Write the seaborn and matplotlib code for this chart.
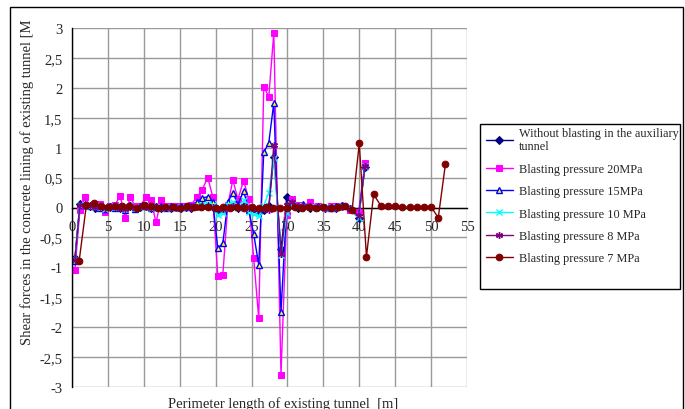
import matplotlib
matplotlib.use("Agg")
import matplotlib.pyplot as plt
from matplotlib.patches import Rectangle
from matplotlib.ticker import FixedLocator, FixedFormatter
import seaborn as sns
import pandas as pd

# ---------------- data ----------------
x_common = [0.4, 1.1, 1.8, 2.5, 3.2, 3.9, 4.6, 5.3, 6.0, 6.7, 7.4, 8.1, 8.8, 9.5,
            10.3, 11.0, 11.7, 12.4, 13.1, 13.8, 14.5, 15.2, 15.9, 16.6, 17.4, 18.1,
            18.9, 19.6, 20.3, 21.0, 21.7, 22.4, 23.1, 23.9, 24.6, 25.3, 26.0, 26.7,
            27.4, 28.1, 29.1, 29.9, 30.7, 31.5, 32.2, 33.1, 34.2, 35.2, 36.1, 36.8,
            37.6, 38.7, 39.9, 40.8]

without_blasting = [-0.85, 0.06, 0.04, 0.02, 0.0, 0.02, -0.02, 0.01, 0.02, 0.0, -0.03, 0.02,
                    0.0, 0.01, 0.02, 0.0, 0.01, 0.0, 0.01, 0.0, 0.01, 0.0, 0.01, 0.0, 0.02,
                    0.02, 0.03, 0.01, -0.05, -0.05, 0.02, 0.03, 0.0, 0.03, -0.02, -0.05,
                    -0.08, -0.05, 0.02, 0.85, -0.70, 0.17, 0.05, 0.0, 0.02, 0.0, 0.01, 0.0,
                    0.01, 0.0, 0.02, -0.02, -0.18, 0.67]

p20 = [-1.05, -0.04, 0.17, 0.03, 0.02, 0.06, -0.07, 0.02, 0.04, 0.20, -0.18, 0.18, 0.02,
       0.03, 0.17, 0.12, -0.25, 0.13, 0.02, 0.03, 0.02, 0.03, 0.03, 0.05, 0.17, 0.29,
       0.50, 0.18, -1.15, -1.13, 0.05, 0.46, 0.14, 0.45, 0.14, -0.85, -1.85, 2.02, 1.85,
       2.92, -2.80, -0.12, 0.14, 0.04, 0.02, 0.10, 0.02, 0.0, 0.02, 0.03, 0.03, -0.04,
       -0.08, 0.75]

p15 = [-0.90, 0.05, 0.05, 0.02, 0.03, 0.0, -0.03, 0.02, 0.0, 0.03, -0.05, 0.05, -0.02,
       0.02, 0.03, 0.0, 0.02, 0.02, 0.0, 0.02, 0.01, 0.02, 0.01, 0.03, 0.09, 0.16, 0.18,
       0.09, -0.68, -0.60, 0.09, 0.25, 0.05, 0.28, -0.05, -0.44, -0.96, 0.92, 1.08, 1.75,
       -1.75, 0.05, 0.08, 0.03, 0.06, 0.02, 0.02, 0.01, 0.0, 0.02, 0.04, 0.0, -0.15, 0.70]

p10 = [-0.88, 0.05, 0.04, 0.02, 0.01, 0.02, -0.02, 0.01, 0.02, 0.01, -0.03, 0.03, 0.0,
       0.01, 0.02, 0.0, 0.01, 0.0, 0.01, 0.0, 0.01, 0.0, 0.01, 0.01, 0.03, 0.05, 0.06,
       0.05, -0.12, -0.10, 0.05, 0.10, 0.0, 0.12, -0.08, -0.11, -0.15, 0.03, 0.25, 0.82,
       -0.80, -0.10, 0.05, 0.02, 0.03, 0.01, 0.01, 0.0, 0.01, 0.0, 0.02, -0.01, -0.18, 0.70]

p8 = [-0.88, 0.04, 0.03, 0.02, 0.01, 0.01, -0.01, 0.01, 0.01, 0.0, -0.02, 0.02, 0.0,
      0.01, 0.01, 0.0, 0.01, 0.0, 0.01, 0.0, 0.0, 0.0, 0.01, 0.0, 0.01, 0.01, 0.02,
      0.01, -0.02, -0.02, 0.01, 0.02, 0.0, 0.02, -0.01, -0.02, -0.03, -0.03, -0.05, 1.05,
      -0.78, 0.05, 0.10, 0.02, 0.02, 0.01, 0.01, 0.0, 0.01, 0.0, 0.01, -0.02, -0.15, 0.70]

x_7mpa = [1, 2, 3, 4, 5, 6, 7, 8, 9, 10, 11, 12, 13, 14, 15, 16, 17, 18, 19, 20, 21, 22,
          23, 24, 25, 26, 27, 28, 29, 30, 31, 32, 33, 34, 35, 36, 37, 38, 39, 40, 41, 42,
          43, 44, 45, 46, 47, 48, 49, 50, 51, 52]
p7 = [-0.89, 0.04, 0.08, 0.03, 0.01, 0.03, 0.02, 0.03, 0.0, 0.04, 0.02, 0.0, 0.01, 0.01,
      0.0, 0.02, 0.01, 0.01, 0.01, 0.0, 0.01, 0.0, 0.01, 0.0, 0.01, 0.0, 0.01, 0.0, 0.0,
      0.0, 0.01, 0.0, 0.01, 0.0, 0.01, 0.0, 0.01, 0.02, -0.04, 1.07, -0.82, 0.22, 0.03,
      0.02, 0.03, 0.01, 0.01, 0.01, 0.01, 0.01, -0.17, 0.73]

series_labels = ["Without blasting in the auxiliary\ntunnel", "Blasting pressure 20MPa",
                 "Blasting pressure 15MPa", "Blasting pressure 10 MPa",
                 "Blasting pressure 8 MPa", "Blasting pressure 7 MPa"]

x_ticks = [0, 5, 10, 15, 20, 25, 30, 35, 40, 45, 50, 55]
y_ticks = [-3, -2.5, -2, -1.5, -1, -0.5, 0, 0.5, 1, 1.5, 2, 2.5, 3]
y_tick_labels = ["-3", "-2,5", "-2", "-1,5", "-1", "-0,5", "0", "0,5", "1", "1,5", "2", "2,5", "3"]

x_label = "Perimeter length of existing tunnel  [m]"
y_label = "Shear forces in the concrete lining of existing tunnel [M"

# ---------------- plotting ----------------
sns.set_style("white")
plt.rcParams["font.family"] = ["Liberation Serif", "DejaVu Serif"]

W, H = 685, 410
fig = plt.figure(figsize=(W / 100, H / 100), dpi=100)
ax = fig.add_axes([72 / W, 1 - 388 / H, (467 - 72) / W, (388 - 29) / H])

styles = [
    (x_common, without_blasting, dict(color="#000080", marker="D", markersize=4,
                                       markerfacecolor="#000080", markeredgecolor="#000080")),
    (x_common, p20, dict(color="#FF00FF", marker="s", markersize=4.8,
                         markerfacecolor="#FF00FF", markeredgecolor="#FF00FF")),
    (x_common, p15, dict(color="#0000FF", marker="^", markersize=5,
                         markerfacecolor="#FFFF00", markeredgecolor="#0000FF",
                         markeredgewidth=1.0)),
    (x_common, p10, dict(color="#00FFFF", marker="x", markersize=4.5,
                         markeredgecolor="#00FFFF", markeredgewidth=1.0)),
    (x_common, p8, dict(color="#800080", marker=(6, 2, 0), markersize=5,
                        markeredgecolor="#800080", markeredgewidth=1.0)),
    (x_7mpa, p7, dict(color="#800000", marker="o", markersize=4.8,
                      markerfacecolor="#800000", markeredgecolor="#800000")),
]

for (xs, ys, st), lab in zip(styles, series_labels):
    df = pd.DataFrame({"x": xs, "y": ys})
    sns.lineplot(data=df, x="x", y="y", ax=ax, label=lab, linewidth=1.0,
                 estimator=None, sort=False, **st)

ax.set_xlim(0, 55)
ax.set_ylim(-3, 3)
ax.xaxis.set_major_locator(FixedLocator(x_ticks))
ax.yaxis.set_major_locator(FixedLocator(y_ticks))
ax.yaxis.set_major_formatter(FixedFormatter(y_tick_labels))
ax.grid(True, color="#999999", linewidth=1.0)
ax.set_axisbelow(True)

for s in ["top", "right"]:
    ax.spines[s].set_visible(False)
ax.spines["bottom"].set_position(("data", 0))
ax.spines["bottom"].set_color("black")
ax.spines["bottom"].set_linewidth(1.0)
ax.spines["left"].set_color("black")
ax.spines["left"].set_linewidth(1.0)
ax.spines["bottom"].set_zorder(1.5)

ax.tick_params(axis="y", direction="out", length=4, width=1, color="black",
               labelsize=10.5, pad=3)
ax.tick_params(axis="x", direction="out", length=0, labelsize=10.5, pad=9)
ax.set_xlabel("")
ax.set_ylabel("")

fig.text(283 / W, 1 - 404 / H, x_label, ha="center", va="center", fontsize=10.5)
fig.text(27 / W, 1 - 182 / H, y_label, ha="center", va="center", rotation=90,
         fontsize=10.5)

leg = ax.legend(loc="upper left", bbox_to_anchor=(482 / W, 1 - 124 / H),
                bbox_transform=fig.transFigure, frameon=False,
                fontsize=8.8, handlelength=2.2, handletextpad=0.55,
                labelspacing=0.85, borderpad=0.3, borderaxespad=0)

fig.patches.append(Rectangle((480 / W, 1 - 290 / H), 200 / W, 165 / H,
                             transform=fig.transFigure, fill=False,
                             edgecolor="black", linewidth=1.0))

fig.patches.append(Rectangle((10 / W, -0.05), (683 - 10) / W, 1 - 8 / H + 0.05,
                             transform=fig.transFigure, fill=False,
                             edgecolor="black", linewidth=1.0))

fig.savefig("out.png", dpi=100)
